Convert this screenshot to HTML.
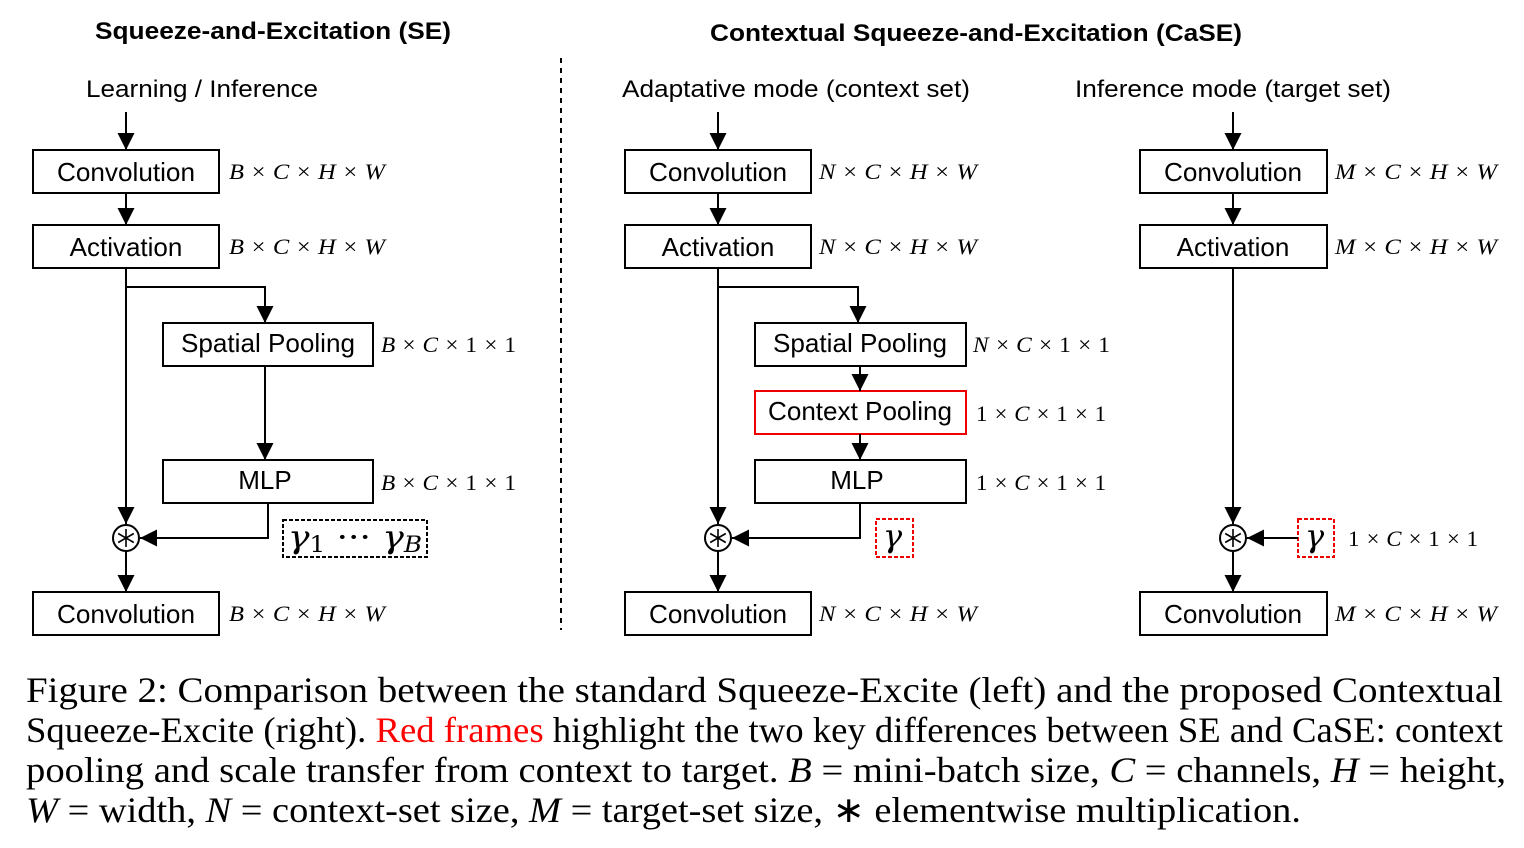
<!DOCTYPE html>
<html><head><meta charset="utf-8"><style>html,body{margin:0;padding:0;background:#fff}svg{display:block}</style></head><body>
<svg width="1524" height="848" viewBox="0 0 1524 848" xmlns="http://www.w3.org/2000/svg">
<defs><marker id="b" viewBox="0 0 10 10" refX="10" refY="5" markerWidth="17" markerHeight="17" markerUnits="userSpaceOnUse" orient="auto"><path d="M0,0L10,5L0,10z" fill="#000"/></marker></defs>
<g font-family="Liberation Sans, sans-serif" font-size="24" fill="#000">
<text x="273" y="39" text-anchor="middle" font-weight="bold" textLength="356" lengthAdjust="spacingAndGlyphs">Squeeze-and-Excitation (SE)</text>
<text x="976" y="41" text-anchor="middle" font-weight="bold" textLength="532" lengthAdjust="spacingAndGlyphs">Contextual Squeeze-and-Excitation (CaSE)</text>
<text x="202" y="97" text-anchor="middle" textLength="232" lengthAdjust="spacingAndGlyphs">Learning / Inference</text>
<text x="796" y="97" text-anchor="middle" textLength="348" lengthAdjust="spacingAndGlyphs">Adaptative mode (context set)</text>
<text x="1233" y="97" text-anchor="middle" textLength="316" lengthAdjust="spacingAndGlyphs">Inference mode (target set)</text>
</g>
<line x1="561" y1="58" x2="561" y2="630" stroke="#000" stroke-width="2" stroke-dasharray="5,5"/>
<g fill="none" stroke="#000" stroke-width="2">
<rect x="33" y="150" width="186" height="43"/><rect x="33" y="225" width="186" height="43"/>
<rect x="163" y="323" width="210" height="43"/><rect x="163" y="460" width="210" height="43"/>
<rect x="33" y="592" width="186" height="43"/>
<circle cx="126" cy="538" r="13"/>
<rect x="625" y="150" width="186" height="43"/><rect x="625" y="225" width="186" height="43"/>
<rect x="755" y="323" width="211" height="43"/><rect x="755" y="460" width="211" height="43"/>
<rect x="625" y="592" width="186" height="43"/>
<circle cx="718" cy="538" r="13"/>
<rect x="1140" y="150" width="187" height="43"/><rect x="1140" y="225" width="187" height="43"/>
<rect x="1140" y="592" width="187" height="43"/>
<circle cx="1233" cy="538" r="13"/>
</g>
<g stroke="#000" stroke-width="1.6">
<path d="M126,529V547M118.2,533.5L133.8,542.5M118.2,542.5L133.8,533.5"/>
<path d="M718,529V547M710.2,533.5L725.8,542.5M710.2,542.5L725.8,533.5"/>
<path d="M1233,529V547M1225.2,533.5L1240.8,542.5M1225.2,542.5L1240.8,533.5"/>
</g>
<rect x="755" y="391" width="211" height="43" fill="none" stroke="#e00" stroke-width="2"/>
<rect x="283" y="520" width="144" height="37" fill="none" stroke="#000" stroke-width="2" stroke-dasharray="4,2"/>
<rect x="876" y="519" width="37" height="38" fill="none" stroke="#e00" stroke-width="2" stroke-dasharray="4,2"/>
<rect x="1298" y="519" width="36" height="38" fill="none" stroke="#e00" stroke-width="2" stroke-dasharray="4,2"/>
<g stroke="#000" stroke-width="2" fill="none" marker-end="url(#b)">
<path d="M126,112V150"/><path d="M126,193V225"/><path d="M126,268V524"/><path d="M126,287H265V323"/><path d="M265,366V460"/><path d="M268,503V538H140"/><path d="M126,552V592"/>
<path d="M718,112V150"/><path d="M718,193V225"/><path d="M718,268V524"/><path d="M718,287H858V323"/><path d="M860,366V391"/><path d="M860,434V460"/><path d="M860,503V538H732"/><path d="M718,552V592"/>
<path d="M1233,112V150"/><path d="M1233,193V225"/><path d="M1233,268V524"/><path d="M1298,538H1247"/><path d="M1233,552V592"/>
</g>
<g font-family="Liberation Sans, sans-serif" font-size="26" text-anchor="middle">
<text x="126" y="181" textLength="138" lengthAdjust="spacingAndGlyphs">Convolution</text><text x="126" y="256">Activation</text><text x="268" y="352" textLength="174" lengthAdjust="spacingAndGlyphs">Spatial Pooling</text><text x="265" y="489">MLP</text><text x="126" y="623" textLength="138" lengthAdjust="spacingAndGlyphs">Convolution</text>
<text x="718" y="181" textLength="138" lengthAdjust="spacingAndGlyphs">Convolution</text><text x="718" y="256">Activation</text><text x="860" y="352" textLength="174" lengthAdjust="spacingAndGlyphs">Spatial Pooling</text><text x="860" y="420" textLength="184" lengthAdjust="spacingAndGlyphs">Context Pooling</text><text x="857" y="489">MLP</text><text x="718" y="623" textLength="138" lengthAdjust="spacingAndGlyphs">Convolution</text>
<text x="1233" y="181" textLength="138" lengthAdjust="spacingAndGlyphs">Convolution</text><text x="1233" y="256">Activation</text><text x="1233" y="623" textLength="138" lengthAdjust="spacingAndGlyphs">Convolution</text>
</g>
<g font-family="Liberation Serif, serif" font-size="22" font-style="italic">
<text x="229" y="179" textLength="156" lengthAdjust="spacingAndGlyphs">B × C × H × W</text>
<text x="229" y="254" textLength="156" lengthAdjust="spacingAndGlyphs">B × C × H × W</text>
<text x="381" y="352" textLength="135" lengthAdjust="spacingAndGlyphs">B × C × <tspan font-style="normal">1</tspan> × <tspan font-style="normal">1</tspan></text>
<text x="381" y="490" textLength="135" lengthAdjust="spacingAndGlyphs">B × C × <tspan font-style="normal">1</tspan> × <tspan font-style="normal">1</tspan></text>
<text x="229" y="621" textLength="156" lengthAdjust="spacingAndGlyphs">B × C × H × W</text>
<text x="819" y="179" textLength="158" lengthAdjust="spacingAndGlyphs">N × C × H × W</text>
<text x="819" y="254" textLength="158" lengthAdjust="spacingAndGlyphs">N × C × H × W</text>
<text x="973" y="352" textLength="137" lengthAdjust="spacingAndGlyphs">N × C × <tspan font-style="normal">1</tspan> × <tspan font-style="normal">1</tspan></text>
<text x="976" y="421" textLength="130" lengthAdjust="spacingAndGlyphs"><tspan font-style="normal">1</tspan> × C × <tspan font-style="normal">1</tspan> × <tspan font-style="normal">1</tspan></text>
<text x="976" y="490" textLength="130" lengthAdjust="spacingAndGlyphs"><tspan font-style="normal">1</tspan> × C × <tspan font-style="normal">1</tspan> × <tspan font-style="normal">1</tspan></text>
<text x="819" y="621" textLength="158" lengthAdjust="spacingAndGlyphs">N × C × H × W</text>
<text x="1335" y="179" textLength="162" lengthAdjust="spacingAndGlyphs">M × C × H × W</text>
<text x="1335" y="254" textLength="162" lengthAdjust="spacingAndGlyphs">M × C × H × W</text>
<text x="1348" y="546" textLength="130" lengthAdjust="spacingAndGlyphs"><tspan font-style="normal">1</tspan> × C × <tspan font-style="normal">1</tspan> × <tspan font-style="normal">1</tspan></text>
<text x="1335" y="621" textLength="162" lengthAdjust="spacingAndGlyphs">M × C × H × W</text>
</g>
<g font-family="DejaVu Serif, serif" font-size="32" font-style="italic">
<text x="288" y="548" textLength="134" lengthAdjust="spacingAndGlyphs">γ<tspan font-size="22" font-style="normal" dy="4">1</tspan><tspan dy="-4" font-style="normal"> ··· </tspan>γ<tspan font-size="22" dy="4">B</tspan></text>
<text x="883" y="547">γ</text><text x="1305" y="547">γ</text>
</g>
<g font-family="Liberation Serif, serif" font-size="36" fill="#000">
<text x="26" y="702" textLength="1477" lengthAdjust="spacingAndGlyphs">Figure 2:  Comparison between the standard Squeeze-Excite (left) and the proposed Contextual</text>
<text x="26" y="742" textLength="1477" lengthAdjust="spacingAndGlyphs">Squeeze-Excite (right). <tspan fill="#f00">Red frames</tspan> highlight the two key differences between SE and CaSE: context</text>
<text x="26" y="782" textLength="1480" lengthAdjust="spacingAndGlyphs">pooling and scale transfer from context to target. <tspan font-style="italic">B</tspan> = mini-batch size, <tspan font-style="italic">C</tspan> = channels, <tspan font-style="italic">H</tspan> = height,</text>
<text x="26" y="822" textLength="1275" lengthAdjust="spacingAndGlyphs"><tspan font-style="italic">W</tspan> = width, <tspan font-style="italic">N</tspan> = context-set size, <tspan font-style="italic">M</tspan> = target-set size, ∗ elementwise multiplication.</text>
</g>
</svg>
</body></html>
